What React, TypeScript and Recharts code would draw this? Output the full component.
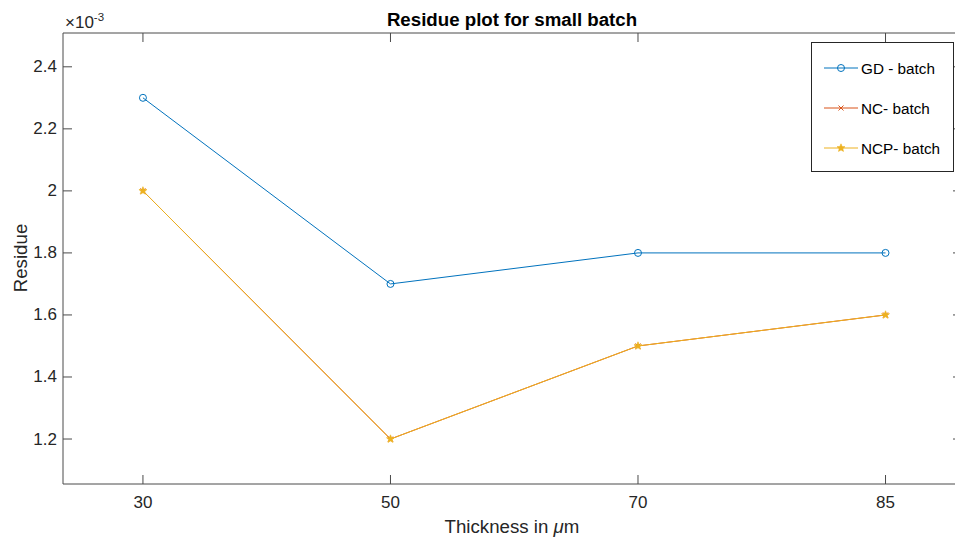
import { LineChart, Line, XAxis, YAxis, Legend } from "recharts"

const categories = ["30", "50", "70", "85"]
const gdBatch = [2.3, 1.7, 1.8, 1.8]
const ncBatch = [2.0, 1.2, 1.5, 1.6]
const ncpBatch = [2.0, 1.2, 1.5, 1.6]
const yTicks = [1.2, 1.4, 1.6, 1.8, 2.0, 2.2, 2.4]
const xTicks = [1, 2, 3, 4]

const data = categories.map((label, i) => ({
  pos: i + 1,
  label,
  gd: gdBatch[i],
  nc: ncBatch[i],
  ncp: ncpBatch[i],
}))

const FONT = '"Liberation Sans", Arial, Helvetica, sans-serif'
const TEXT = "#262626"
const AXIS = "#4a4a4a"
const BLUE = "#0072BD"
const ORANGE = "#D95319"
const YELLOW = "#EDB120"
const X_DOMAIN: [number, number] = [0.677, 4.309]
const Y_DOMAIN: [number, number] = [1.055, 2.509]

function Marker({ kind, cx, cy, color }: { kind: string; cx: number; cy: number; color: string }) {
  if (kind === "circle") {
    return <circle cx={cx} cy={cy} r={3.5} fill="none" stroke={color} strokeWidth={1} />
  }
  if (kind === "cross") {
    const s = 2.5
    return (
      <g stroke={color} strokeWidth={1}>
        <line x1={cx - s} y1={cy - s} x2={cx + s} y2={cy + s} />
        <line x1={cx - s} y1={cy + s} x2={cx + s} y2={cy - s} />
      </g>
    )
  }
  // star
  const pts: string[] = []
  for (let k = 0; k < 10; k++) {
    const r = k % 2 === 0 ? 4.2 : 1.9
    const a = -Math.PI / 2 + (k * Math.PI) / 5
    pts.push(`${cx + r * Math.cos(a)},${cy + r * Math.sin(a)}`)
  }
  return <polygon points={pts.join(" ")} fill={color} stroke={color} strokeWidth={0.6} />
}

const dotFor = (kind: string, color: string) => (props: any) =>
  <Marker key={`${kind}-${props.index}`} kind={kind} cx={props.cx} cy={props.cy} color={color} />

const LeftTick = ({ x, y, payload }: any) => (
  <g>
    <line x1={x} x2={x + 9} y1={y} y2={y} stroke={AXIS} />
    <text x={x - 6} y={y} textAnchor="end" dominantBaseline="central" fill={TEXT} fontSize={17} fontFamily={FONT}>
      {String(payload.value)}
    </text>
  </g>
)

const RightTick = ({ x, y }: any) => <line x1={x} x2={x - 9} y1={y} y2={y} stroke={AXIS} />

const BottomTick = ({ x, y, payload }: any) => (
  <g>
    <line x1={x} x2={x} y1={y} y2={y - 9} stroke={AXIS} />
    <text x={x} y={y + 18} textAnchor="middle" dominantBaseline="central" fill={TEXT} fontSize={17} fontFamily={FONT}>
      {categories[payload.value - 1]}
    </text>
  </g>
)

const TopTick = ({ x, y }: any) => <line x1={x} x2={x} y1={y} y2={y + 9} stroke={AXIS} />

const markerKind: Record<string, string> = { gd: "circle", nc: "cross", ncp: "star" }

const renderLegend = (props: any) => {
  const items = props.payload || []
  return (
    <div
      style={{
        width: 143,
        height: 130,
        boxSizing: "border-box",
        border: `1px solid ${TEXT}`,
        background: "#fff",
        position: "relative",
      }}
    >
      <svg width={143} height={130} style={{ position: "absolute", left: -1, top: -1 }}>
        {items.map((it: any, i: number) => {
          const cy = 26 + i * 40
          return (
            <g key={it.dataKey}>
              <line x1={13} x2={47} y1={cy} y2={cy} stroke={it.color} strokeWidth={1} />
              <Marker kind={markerKind[it.dataKey]} cx={30} cy={cy} color={it.color} />
              <text x={50} y={cy} dominantBaseline="central" fontSize={15.3} fontFamily={FONT} fill="#000">
                {it.value}
              </text>
            </g>
          )
        })}
      </svg>
    </div>
  )
}

export default function App() {
  return (
    <div style={{ position: "absolute", left: 0, top: 0, width: 955, height: 539, overflow: "hidden", background: "#fff" }}>
      <LineChart width={970} height={539} data={data} margin={{ top: 0, right: 0, bottom: 0, left: 0 }}>
        <XAxis
          xAxisId="b"
          dataKey="pos"
          type="number"
          domain={X_DOMAIN}
          ticks={xTicks}
          interval={0}
          allowDataOverflow
          height={55}
          tickSize={0}
          tickMargin={0}
          tickLine={false}
          axisLine={{ stroke: AXIS }}
          tick={BottomTick}
        />
        <XAxis
          xAxisId="t"
          orientation="top"
          dataKey="pos"
          type="number"
          domain={X_DOMAIN}
          ticks={xTicks}
          interval={0}
          allowDataOverflow
          height={33}
          tickSize={0}
          tickMargin={0}
          tickLine={false}
          axisLine={{ stroke: AXIS }}
          tick={TopTick}
        />
        <YAxis
          yAxisId="l"
          type="number"
          domain={Y_DOMAIN}
          ticks={yTicks}
          interval={0}
          allowDataOverflow
          width={63}
          tickSize={0}
          tickMargin={0}
          tickLine={false}
          axisLine={{ stroke: AXIS }}
          tick={LeftTick}
        />
        <YAxis
          yAxisId="r"
          orientation="right"
          type="number"
          domain={Y_DOMAIN}
          ticks={yTicks}
          interval={0}
          allowDataOverflow
          width={8}
          tickSize={0}
          tickMargin={0}
          tickLine={false}
          axisLine={{ stroke: AXIS }}
          tick={RightTick}
        />
        <Legend
          layout="vertical"
          align="center"
          verticalAlign="middle"
          content={renderLegend}
          wrapperStyle={{ left: 811, top: 42, width: 143, height: 130 }}
        />
        <Line
          xAxisId="b"
          yAxisId="l"
          dataKey="gd"
          name="GD - batch"
          type="linear"
          stroke={BLUE}
          strokeWidth={1}
          dot={dotFor("circle", BLUE)}
          activeDot={false}
          isAnimationActive={false}
        />
        <Line
          xAxisId="b"
          yAxisId="l"
          dataKey="nc"
          name="NC- batch"
          type="linear"
          stroke={ORANGE}
          strokeWidth={1}
          dot={dotFor("cross", ORANGE)}
          activeDot={false}
          isAnimationActive={false}
        />
        <Line
          xAxisId="b"
          yAxisId="l"
          dataKey="ncp"
          name="NCP- batch"
          type="linear"
          stroke={YELLOW}
          strokeWidth={1}
          dot={dotFor("star", YELLOW)}
          activeDot={false}
          isAnimationActive={false}
        />
      </LineChart>
      <svg width={955} height={539} style={{ position: "absolute", left: 0, top: 0, pointerEvents: "none" }}>
        <text x={512} y={26} textAnchor="middle" fontSize={18.7} fontWeight="bold" fontFamily={FONT} fill="#000">
          Residue plot for small batch
        </text>
        <text x={65} y={28} fontSize={17} fontFamily={FONT} fill={TEXT}>
          ×10
          <tspan dy={-7} fontSize={11.5}>-3</tspan>
        </text>
        <text x={512} y={533} textAnchor="middle" fontSize={18.7} fontFamily={FONT} fill={TEXT}>
          Thickness in <tspan fontStyle="italic">μ</tspan>m
        </text>
        <text transform="translate(27,258) rotate(-90)" textAnchor="middle" fontSize={18.7} fontFamily={FONT} fill={TEXT}>
          Residue
        </text>
      </svg>
    </div>
  )
}
